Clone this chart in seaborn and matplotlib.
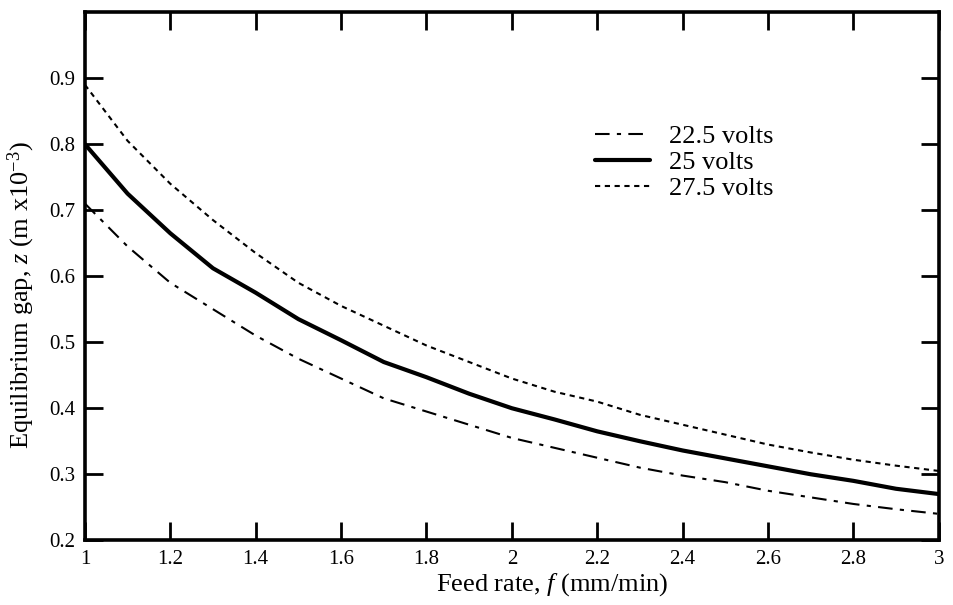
import pandas as pd
import matplotlib
matplotlib.use("Agg")
import matplotlib.pyplot as plt
import seaborn as sns

feed_rate = [1.0, 1.1, 1.2, 1.3, 1.4, 1.5, 1.6, 1.7, 1.8, 1.9, 2.0,
             2.1, 2.2, 2.3, 2.4, 2.5, 2.6, 2.7, 2.8, 2.9, 3.0]
gap_22_5 = [0.71, 0.645, 0.59, 0.55, 0.51, 0.475, 0.445, 0.415, 0.395, 0.375, 0.355,
            0.34, 0.325, 0.31, 0.298, 0.288, 0.275, 0.265, 0.255, 0.247, 0.24]
gap_25 = [0.80, 0.725, 0.665, 0.612, 0.575, 0.535, 0.503, 0.47, 0.447, 0.422, 0.40,
          0.383, 0.365, 0.35, 0.336, 0.324, 0.312, 0.30, 0.29, 0.278, 0.27]
gap_27_5 = [0.89, 0.805, 0.74, 0.685, 0.635, 0.59, 0.555, 0.525, 0.495, 0.47, 0.445,
            0.425, 0.41, 0.39, 0.375, 0.36, 0.345, 0.333, 0.322, 0.313, 0.305]
labels = ["22.5 volts", "25 volts", "27.5 volts"]
x_ticks = [1, 1.2, 1.4, 1.6, 1.8, 2, 2.2, 2.4, 2.6, 2.8, 3]
y_ticks = [0.2, 0.3, 0.4, 0.5, 0.6, 0.7, 0.8, 0.9]

sns.set_style("ticks")
plt.rcParams['font.family'] = ['Liberation Serif', 'DejaVu Serif']
plt.rcParams['mathtext.fontset'] = 'custom'
plt.rcParams['mathtext.rm'] = 'Liberation Serif'
plt.rcParams['mathtext.it'] = 'Liberation Serif:italic'
plt.rcParams['text.color'] = 'black'
plt.rcParams['axes.labelcolor'] = 'black'

df = pd.DataFrame({'f': feed_rate, labels[0]: gap_22_5,
                   labels[1]: gap_25, labels[2]: gap_27_5})

fig = plt.figure(figsize=(9.54, 6.05), dpi=100)
ax = fig.add_axes([0.089, 0.107, 0.895, 0.873])

sns.lineplot(data=df, x='f', y=labels[0], ax=ax, color='black', lw=1.5,
             linestyle=(0, (7, 3.5, 2, 3.5)), label=labels[0])
sns.lineplot(data=df, x='f', y=labels[1], ax=ax, color='black', lw=3.0,
             linestyle='-', label=labels[1])
sns.lineplot(data=df, x='f', y=labels[2], ax=ax, color='black', lw=1.5,
             linestyle=(0, (2.5, 2.2)), label=labels[2])

ax.set_xlim(1, 3)
ax.set_ylim(0.2, 1.0)
ax.set_xticks(x_ticks)
ax.set_xticklabels([f"{t:g}" for t in x_ticks])
ax.set_yticks(y_ticks)
ax.set_yticklabels([f"{t:g}" for t in y_ticks])

for s in ax.spines.values():
    s.set_visible(True)
    s.set_linewidth(2.6)
    s.set_color('black')
ax.tick_params(direction='in', length=13, width=2.0, top=True, right=True,
               labelsize=15, colors='black', pad=7)

ax.set_xlabel("Feed rate, $f$ (mm/min)", fontsize=19, color='black')
ax.set_ylabel("Equilibrium gap, $z$ (m x10$^{\\mathregular{-3}}$)", fontsize=19,
              color='black')
ax.xaxis.set_label_coords(0.547, -0.058)
ax.yaxis.set_label_coords(-0.056, 0.464)

leg = ax.legend(loc='upper left', bbox_to_anchor=(0.597, 0.787), frameon=False,
                fontsize=19, handlelength=2.1, borderaxespad=0, borderpad=0,
                labelspacing=0.1, handletextpad=0.7)
for t in leg.get_texts():
    t.set_color('black')

fig.savefig("out.png", dpi=100)
